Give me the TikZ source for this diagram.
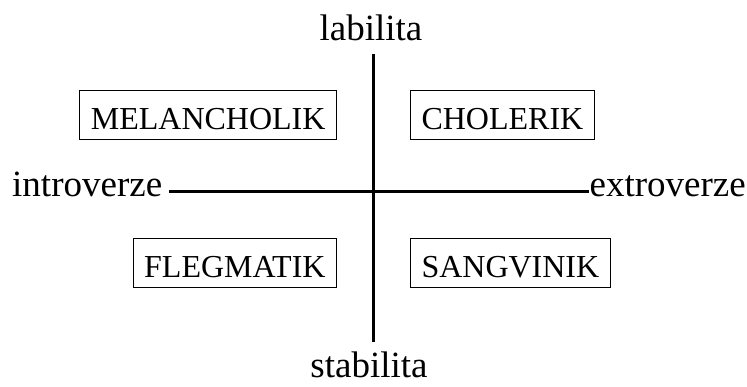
\documentclass[tikz,border=0pt]{standalone}
\usepackage{fontspec}
\setmainfont{Liberation Serif}
\begin{document}
\begin{tikzpicture}[x=1pt,y=1pt,
  typebox/.style={draw, line width=1pt, inner xsep=11pt, inner ysep=0pt,
    text height=39pt, text depth=10pt, font=\fontsize{32}{38}\selectfont},
  axislabel/.style={inner sep=0pt, font=\fontsize{37}{44}\selectfont},
  axisline/.style={line width=3pt}]
\useasboundingbox (0,0) rectangle (747,387);
% axis labels
\node[axislabel, anchor=base] (lab) at (371,346) {labilita};
\node[axislabel, anchor=base] (stab) at (369,9) {stabilita};
\node[axislabel, anchor=base west] (intro) at (12,190) {introverze};
\node[axislabel, anchor=base east] (extro) at (746,190) {extroverze};
% axes
\coordinate (vtop) at (373,333);
\coordinate (vbot) at (373,45);
\coordinate (hleft) at (169,195);
\coordinate (hright) at (589,195);
\draw[axisline] (vtop) -- (vbot);
\draw[axisline] (hleft) -- (hright);
% boxes
\node[typebox, anchor=base east] (mel) at (337,257) {MELANCHOLIK};
\node[typebox, anchor=base west] (chol) at (410,257) {CHOLERIK};
\node[typebox, anchor=base east] (fleg) at (337,109) {FLEGMATIK};
\node[typebox, anchor=base west] (sang) at (410,109) {SANGVINIK};
\end{tikzpicture}
\end{document}
